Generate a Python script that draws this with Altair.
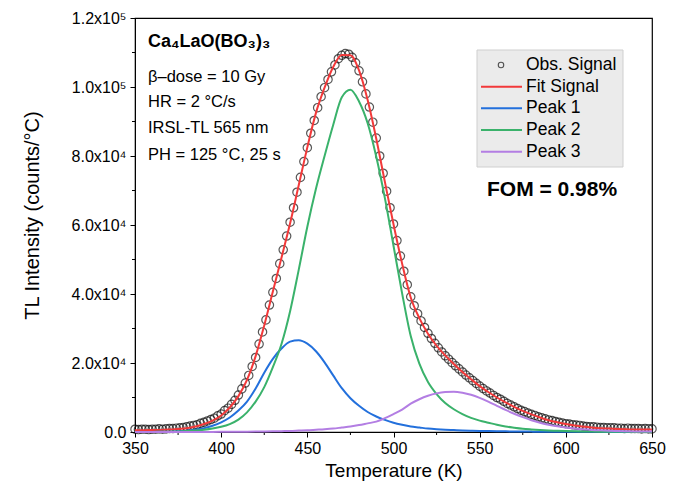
import altair as alt
import pandas as pd

# ---- measured glow curve (2 K steps), intensity in units of 1e4 counts/°C ----
obs_temp = list(range(350, 651, 2))
obs_signal = [
    0.08, 0.07, 0.08, 0.08, 0.07, 0.08, 0.08, 0.09, 0.08, 0.09,
    0.10, 0.10, 0.11, 0.12, 0.13, 0.15, 0.17, 0.19, 0.21, 0.25,
    0.28, 0.32, 0.36, 0.40, 0.47, 0.52, 0.62, 0.69, 0.80, 0.92,
    1.07, 1.25, 1.42, 1.64, 1.90, 2.16, 2.55, 2.90, 3.25, 3.68,
    4.05, 4.45, 4.88, 5.28, 5.68, 6.08, 6.50, 6.95, 7.38, 7.84,
    8.24, 8.66, 9.03, 9.40, 9.72, 9.98, 10.22, 10.44, 10.64, 10.82,
    10.92, 10.97, 10.95, 10.86, 10.70, 10.47, 10.15, 9.80, 9.42, 8.98,
    8.52, 8.00, 7.50, 6.98, 6.50, 6.03, 5.55, 5.10, 4.66, 4.27,
    3.92, 3.66, 3.43, 3.22, 3.03, 2.86, 2.71, 2.57, 2.44, 2.32,
    2.21, 2.11, 2.01, 1.92, 1.83, 1.74, 1.65, 1.57, 1.49, 1.41,
    1.33, 1.26, 1.19, 1.13, 1.06, 1.00, 0.95, 0.89, 0.83, 0.78,
    0.73, 0.68, 0.63, 0.59, 0.55, 0.51, 0.48, 0.44, 0.41, 0.38,
    0.35, 0.33, 0.30, 0.28, 0.26, 0.24, 0.23, 0.21, 0.20, 0.19,
    0.17, 0.16, 0.15, 0.15, 0.14, 0.13, 0.13, 0.12, 0.12, 0.12,
    0.11, 0.11, 0.10, 0.11, 0.10, 0.10, 0.10, 0.09, 0.10, 0.09,
    0.09,
]

# ---- deconvolution result (5 K steps), same units ----
fit_temp = list(range(350, 651, 5))
fit_signal = [
    0.05, 0.05, 0.06, 0.06, 0.07, 0.09, 0.11, 0.16, 0.23, 0.33,
    0.48, 0.71, 1.04, 1.51, 2.20, 3.09, 4.07, 5.05, 6.05, 7.15,
    8.25, 9.25, 9.98, 10.58, 10.93, 10.92, 10.48, 9.62, 8.50, 7.25,
    6.02, 4.88, 3.90, 3.30, 2.85, 2.50, 2.22, 1.97, 1.74, 1.53,
    1.33, 1.16, 1.00, 0.86, 0.73, 0.61, 0.51, 0.42, 0.34, 0.28,
    0.23, 0.19, 0.16, 0.13, 0.11, 0.10, 0.09, 0.08, 0.07, 0.07,
    0.07,
]
peak_1 = [
    0.000, 0.001, 0.002, 0.005, 0.010, 0.020, 0.035, 0.065, 0.11, 0.18,
    0.28, 0.42, 0.62, 0.88, 1.26, 1.72, 2.12, 2.42, 2.62, 2.66,
    2.56, 2.34, 2.02, 1.64, 1.27, 0.98, 0.76, 0.58, 0.45, 0.35,
    0.27, 0.21, 0.16, 0.13, 0.10, 0.08, 0.065, 0.055, 0.045, 0.038,
    0.032, 0.027, 0.023, 0.019, 0.016, 0.013, 0.011, 0.009, 0.008, 0.007,
    0.006, 0.0055, 0.005, 0.0045, 0.004, 0.0035, 0.003, 0.0025, 0.002, 0.002,
    0.002,
]
peak_2 = [
    0.000, 0.001, 0.003, 0.005, 0.010, 0.017, 0.027, 0.042, 0.065, 0.10,
    0.15, 0.23, 0.36, 0.57, 0.88, 1.30, 1.88, 2.55, 3.50, 4.70,
    5.95, 7.05, 8.00, 8.90, 9.70, 9.92, 9.58, 8.95, 7.98, 6.78,
    5.40, 4.02, 2.78, 1.98, 1.45, 1.10, 0.84, 0.66, 0.52, 0.41,
    0.33, 0.27, 0.21, 0.16, 0.125, 0.095, 0.075, 0.058, 0.044, 0.034,
    0.026, 0.020, 0.015, 0.011, 0.009, 0.007, 0.005, 0.004, 0.003, 0.002,
    0.002,
]
peak_3 = [
    0.000, 0.000, 0.000, 0.000, 0.000, 0.001, 0.001, 0.001, 0.002, 0.003,
    0.004, 0.005, 0.007, 0.009, 0.012, 0.016, 0.020, 0.025, 0.030, 0.040,
    0.050, 0.065, 0.080, 0.10, 0.13, 0.16, 0.20, 0.25, 0.30, 0.40,
    0.52, 0.65, 0.82, 0.95, 1.05, 1.12, 1.16, 1.17, 1.14, 1.08,
    0.99, 0.88, 0.76, 0.64, 0.53, 0.43, 0.34, 0.27, 0.21, 0.165,
    0.13, 0.10, 0.079, 0.061, 0.048, 0.037, 0.030, 0.023, 0.018, 0.014,
    0.011,
]

series_names = ["Fit Signal", "Peak 1", "Peak 2", "Peak 3"]
series_values = [fit_signal, peak_1, peak_2, peak_3]
series_colors = ["#f2393a", "#2370dc", "#3ab26b", "#b37ee3"]

x_ticks = [350, 400, 450, 500, 550, 600, 650]
x_minor = [375, 425, 475, 525, 575, 625]
y_ticks = [0, 20000, 40000, 60000, 80000, 100000, 120000]
y_minor = [10000, 30000, 50000, 70000, 90000, 110000]

UNIT = 1e4
FONT = "Liberation Sans"
W, H = 517, 414

x_scale = alt.Scale(domain=[350, 650], nice=False, zero=False)
y_scale = alt.Scale(domain=[0, 120000], nice=False)

x_enc = alt.X(
    "T:Q", scale=x_scale,
    axis=alt.Axis(
        values=x_ticks, title="Temperature (K)", grid=False,
        tickSize=5, tickColor="black", domainColor="black", tickWidth=1,
        labelFont=FONT, labelFontSize=16, labelColor="black", labelPadding=3,
        labelFlush=False,
        titleFont=FONT, titleFontSize=19, titleFontWeight="normal", titleColor="black",
        titleY=44, titleBaseline="alphabetic",
    ),
)
y_label_expr = (
    "datum.value == 0 ? '0.0' : (datum.value < 100000 ? "
    "format(datum.value / 10000, '.1f') + 'x10⁴' : "
    "format(datum.value / 100000, '.1f') + 'x10⁵')"
)
y_enc = alt.Y(
    "I:Q", scale=y_scale,
    axis=alt.Axis(
        values=y_ticks, title="TL Intensity (counts/°C)", grid=False,
        tickSize=5, tickColor="black", domainColor="black", tickWidth=1,
        labelFont=FONT, labelFontSize=16, labelColor="black", labelPadding=4,
        labelExpr=y_label_expr, labelFlush=False,
        titleFont=FONT, titleFontSize=20, titleFontWeight="normal", titleColor="black",
        titleX=-97, titleY=197, titleAngle=-90, titleAlign="center",
        titleBaseline="alphabetic",
    ),
)

obs_df = pd.DataFrame({"T": obs_temp, "I": [v * UNIT for v in obs_signal]})

layers = []

# minor tick marks on both axes
layers.append(
    alt.Chart(pd.DataFrame({"T": x_minor})).mark_rule(color="black", strokeWidth=1)
    .encode(x=alt.X("T:Q", scale=x_scale), y=alt.value(H), y2=alt.value(H + 3))
)
layers.append(
    alt.Chart(pd.DataFrame({"I": y_minor})).mark_rule(color="black", strokeWidth=1)
    .encode(y=alt.Y("I:Q", scale=y_scale), x=alt.value(-3), x2=alt.value(0))
)

# observed points
layers.append(
    alt.Chart(obs_df).mark_point(
        shape="circle", filled=False, size=70, stroke="#111111", strokeWidth=1.2
    ).encode(x=x_enc, y=y_enc)
)

# fit and component peaks
for name, vals, col in zip(series_names, series_values, series_colors):
    df = pd.DataFrame({"T": fit_temp, "I": [v * UNIT for v in vals]})
    layers.append(
        alt.Chart(df).mark_line(color=col, strokeWidth=2, interpolate="monotone")
        .encode(x=alt.X("T:Q", scale=x_scale), y=alt.Y("I:Q", scale=y_scale))
    )


def label(text, x, y, size=16, weight="normal", align="left", baseline="alphabetic"):
    return alt.Chart(pd.DataFrame({"t": [text]})).mark_text(
        font=FONT, fontSize=size, fontWeight=weight, align=align,
        baseline=baseline, color="black",
    ).encode(x=alt.value(x), y=alt.value(y), text="t:N")


# sample and measurement conditions
layers.append(label("Ca₄LaO(BO₃)₃", 13, 29, size=18, weight="bold"))
info_lines = ["β–dose = 10 Gy", "HR = 2 °C/s", "IRSL-TL 565 nm", "PH = 125 °C, 25 s"]
info_y = [64, 89, 115, 142]
for txt, yy in zip(info_lines, info_y):
    layers.append(label(txt, 13, yy, size=16.5))

# legend panel
lx0, lx1, ly0, ly1 = 342, 488, 32, 149
layers.append(
    alt.Chart(pd.DataFrame({"a": [0]})).mark_rect(
        fill="#ebebeb", stroke="#cfcfcf", strokeWidth=1
    ).encode(x=alt.value(lx0), x2=alt.value(lx1), y=alt.value(ly0), y2=alt.value(ly1))
)
legend_names = ["Obs. Signal"] + series_names
legend_y = [47, 68.7, 90.3, 112, 133.7]
for i, (name, yy) in enumerate(zip(legend_names, legend_y)):
    if i == 0:
        layers.append(
            alt.Chart(pd.DataFrame({"a": [0]})).mark_point(
                shape="circle", filled=False, size=30, stroke="#111111", strokeWidth=1.1
            ).encode(x=alt.value(366), y=alt.value(yy))
        )
    else:
        layers.append(
            alt.Chart(pd.DataFrame({"a": [0]})).mark_rule(
                color=series_colors[i - 1], strokeWidth=2
            ).encode(x=alt.value(346), x2=alt.value(387), y=alt.value(yy))
        )
    layers.append(label(name, 391, yy, size=17.5, baseline="middle"))

layers.append(label("FOM = 0.98%", 352, 172, size=21, weight="bold", baseline="middle"))

chart = (
    alt.layer(*layers)
    .properties(
        width=W, height=H,
        padding={"left": 135, "top": 18, "right": 30, "bottom": 64},
        autosize=alt.AutoSizeParams(type="none"),
        background="white",
    )
    .configure_view(stroke="black", strokeWidth=1.2)
)

chart.save("out.html", embed_options={"renderer": "svg", "actions": False})
